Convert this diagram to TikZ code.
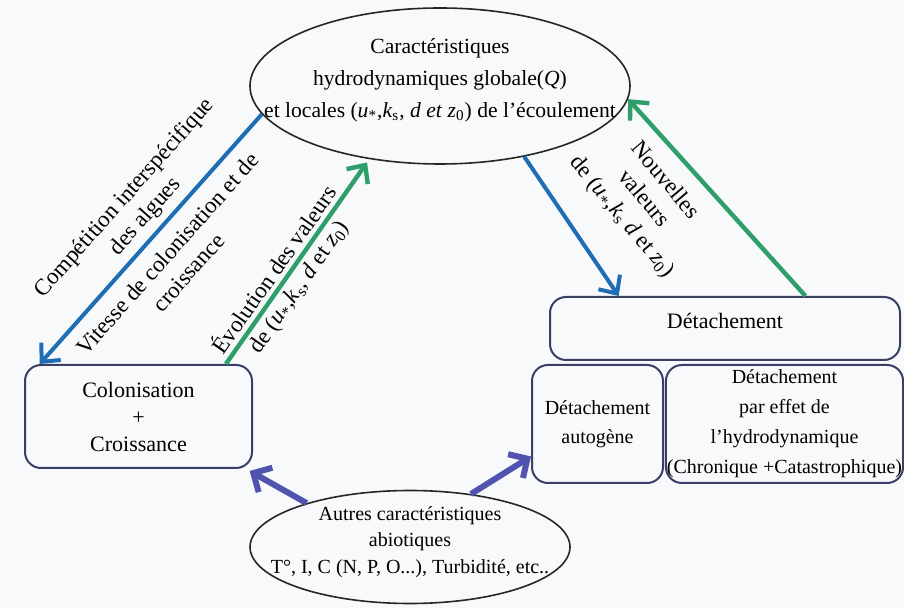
\documentclass[tikz,border=0pt]{standalone}
\usepackage{fontspec}
\setmainfont{Liberation Serif}
\usetikzlibrary{shapes.geometric,arrows.meta}
\definecolor{bleu}{RGB}{31,110,181}
\definecolor{vert}{RGB}{46,158,107}
\definecolor{violet}{RGB}{80,84,174}
\definecolor{cadre}{RGB}{58,63,102}
\definecolor{fond}{RGB}{247,249,251}
\tikzstyle{bulle}=[ellipse, draw=black!85, line width=0.8pt]
\tikzstyle{boite}=[rectangle, rounded corners=8pt, draw=cadre, line width=1pt, align=center, inner sep=0.5pt]
\tikzstyle{fbleu}=[draw=bleu, line width=2pt, -{Straight Barb[length=7pt,width=13pt]}]
\tikzstyle{fvert}=[draw=vert, line width=2.2pt, -{Straight Barb[length=7pt,width=13pt]}]
\tikzstyle{fviolet}=[draw=violet, line width=3pt, -{Straight Barb[length=7pt,width=14pt]}]
\tikzstyle{etiq}=[sloped, align=center, inner sep=1pt, font=\fontsize{11.5}{14}\selectfont]
\newcommand{\ustar}{\textit{u}\textsubscript{*}}
\newcommand{\kes}{\textit{k}\textsubscript{s}}
\newcommand{\zzero}{\textit{z}\textsubscript{0}}
\begin{document}
\begin{tikzpicture}[x=0.5pt, y=-0.5pt, font=\fontsize{11.5}{16}\selectfont]
    \fill[fond] (0,0) rectangle (904,608);
    \useasboundingbox (0,0) rectangle (904,608);
    % noeuds
    \node[bulle, minimum width=190pt, minimum height=78pt] (carac) at (440,86) {};
    \node[align=center, font=\fontsize{10.8}{16}\selectfont] (caractxt) at (440,80) {Caractéristiques\\hydrodynamiques globale(\textit{Q})\\et locales (\ustar,\kes, \textit{d et} \zzero) de l'écoulement};
    \node[boite, minimum width=113.5pt, minimum height=51.5pt, font=\fontsize{11}{13.5}\selectfont] (colon) at (138.5,416.5) {Colonisation\\+\\Croissance};
    \node[boite, minimum width=175pt, minimum height=31.5pt, text depth=8pt, font=\fontsize{11}{14}\selectfont] (detach) at (725,328.5) {Détachement};
    \node[boite, minimum width=65.5pt, minimum height=59pt, font=\fontsize{10}{14.5}\selectfont] (autog) at (597.5,424) {Détachement\\autogène};
    \node[boite, minimum width=117.5pt, minimum height=59pt, font=\fontsize{10}{15}\selectfont] (effet) at (784.5,424) {Détachement\\par effet de\\l'hydrodynamique\\(Chronique +Catastrophique)};
    \node[bulle, minimum width=160pt, minimum height=56.5pt] (abiot) at (410,547) {};
    \node[align=center, font=\fontsize{10}{13.3}\selectfont] (abiottxt) at (410,542) {Autres caractéristiques\\abiotiques\\T°, I, C (N, P, O...), Turbidité, etc..};
    % fleches
    \draw[fbleu] (carac.189) -- (colon.152)
        node[etiq, pos=0.46, above=2pt] (compet) {Compétition interspécifique\\des algues}
        node[etiq, pos=0.5, below=5pt] (vitesse) {Vitesse de colonisation et de\\croissance};
    \draw[fvert, shorten >=2pt] (colon.31) -- (carac.226)
        node[etiq, pos=0.42, above=1pt] (evol) {Évolution des valeurs}
        node[etiq, pos=0.42, below=1pt] (evolval) {de (\ustar,\kes, \textit{d} et \zzero)};
    \draw[fbleu] (carac.-40) -- (detach.163);
    \draw[fvert] (detach.22) -- (carac.-4);
    \node[align=center, rotate=-50, font=\fontsize{11.5}{14}\selectfont] (nouv) at (643,199) {Nouvelles\\valeurs\\de (\ustar,\kes{} \textit{d} et \zzero)};
    \draw[fviolet, shorten >=2pt] (abiot.157) -- (colon.-26);
    \draw[fviolet] (abiot.41) -- (autog.206);
\end{tikzpicture}
\end{document}
